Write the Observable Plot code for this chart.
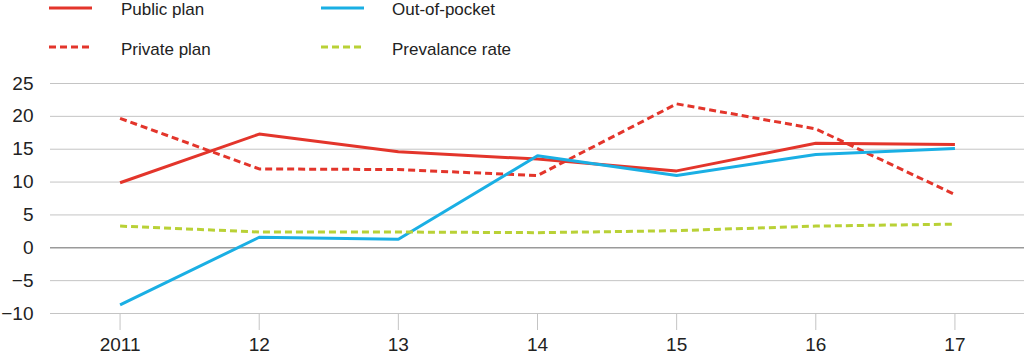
<!DOCTYPE html>
<html>
<head>
<meta charset="utf-8">
<script src="https://cdn.jsdelivr.net/npm/d3@7"></script>
<script src="https://cdn.jsdelivr.net/npm/@observablehq/plot@0.6"></script>
<style>
  body { margin: 0; background: #fff; font-family: "Liberation Sans", Arial, sans-serif; }
  #legend { position: relative; width: 1024px; height: 62px; }
</style>
</head>
<body>
<div id="legend"></div>
<div id="chart"></div>
<script>
const years = [2011, 2012, 2013, 2014, 2015, 2016, 2017];
const xTickLabels = ["2011", "12", "13", "14", "15", "16", "17"];
const yTicks = [-10, -5, 0, 5, 10, 15, 20, 25];

const publicPlan   = [9.9, 17.3, 14.6, 13.5, 11.7, 15.9, 15.7];
const privatePlan  = [19.7, 12.0, 11.9, 11.0, 21.9, 18.1, 8.1];
const outOfPocket  = [-8.7, 1.6, 1.3, 14.0, 11.0, 14.2, 15.1];
const prevalence   = [3.3, 2.4, 2.4, 2.3, 2.6, 3.3, 3.6];

const seriesNames = ["Public plan", "Private plan", "Out-of-pocket", "Prevalance rate"];
const seriesValues = [publicPlan, privatePlan, outOfPocket, prevalence];
const seriesColors = ["#e3352b", "#e3352b", "#1aafe4", "#b9d136"];
const seriesDash = [null, "7,4", null, "7,4"];

// legend
const legendPos = [
  {sx: 49, lx: 121, y: 8, ty: 0},
  {sx: 49, lx: 121, y: 47, ty: 40},
  {sx: 321, lx: 392, y: 8, ty: 0},
  {sx: 321, lx: 392, y: 47, ty: 40}
];
const legend = document.getElementById("legend");
seriesNames.forEach((name, i) => {
  const p = legendPos[i];
  const sw = document.createElementNS("http://www.w3.org/2000/svg", "svg");
  sw.setAttribute("width", 44); sw.setAttribute("height", 6);
  sw.style.position = "absolute";
  sw.style.left = p.sx + "px"; sw.style.top = (p.y - 3) + "px";
  const ln = document.createElementNS("http://www.w3.org/2000/svg", "line");
  ln.setAttribute("x1", 0); ln.setAttribute("x2", 43);
  ln.setAttribute("y1", 3); ln.setAttribute("y2", 3);
  ln.setAttribute("stroke", seriesColors[i]);
  ln.setAttribute("stroke-width", 3);
  if (seriesDash[i]) ln.setAttribute("stroke-dasharray", seriesDash[i]);
  sw.appendChild(ln);
  legend.appendChild(sw);
  const t = document.createElement("div");
  t.textContent = name;
  t.style.position = "absolute";
  t.style.left = p.lx + "px";
  t.style.top = p.ty + "px";
  t.style.fontSize = "17px";
  t.style.lineHeight = "19px";
  t.style.color = "#222";
  t.style.whiteSpace = "nowrap";
  legend.appendChild(t);
});

const data = [];
seriesNames.forEach((name, i) => {
  years.forEach((yr, j) => data.push({series: name, year: yr, value: seriesValues[i][j]}));
});

const chart = Plot.plot({
  width: 1024,
  height: 293,
  marginLeft: 50,
  marginRight: 0,
  marginTop: 21,
  marginBottom: 42,
  style: {fontFamily: "Liberation Sans, Arial, sans-serif", fontSize: "19px", color: "#222", background: "#fff"},
  x: {type: "linear", domain: [2010.5, 2017.5]},
  y: {domain: [-10, 25]},
  marks: [
    Plot.ruleY(yTicks, {stroke: d => d === 0 ? "#9a9a9a" : "#c4c4c4", strokeWidth: d => d === 0 ? 1.5 : 1}),
    Plot.axisY({ticks: yTicks, tickSize: 0, tickPadding: 17, label: null, fontSize: 19}),
    Plot.axisX({ticks: years, tickFormat: d => xTickLabels[years.indexOf(d)], tickSize: 17, tickPadding: 7, stroke: "#c4c4c4", label: null, fontSize: 19}),
    ...seriesNames.map((name, i) =>
      Plot.line(data.filter(d => d.series === name), {
        x: "year", y: "value",
        stroke: seriesColors[i], strokeWidth: 3,
        strokeDasharray: seriesDash[i] || undefined,
        strokeLinejoin: "miter", strokeLinecap: "butt"
      })
    )
  ]
});
document.getElementById("chart").appendChild(chart);
</script>
</body>
</html>
